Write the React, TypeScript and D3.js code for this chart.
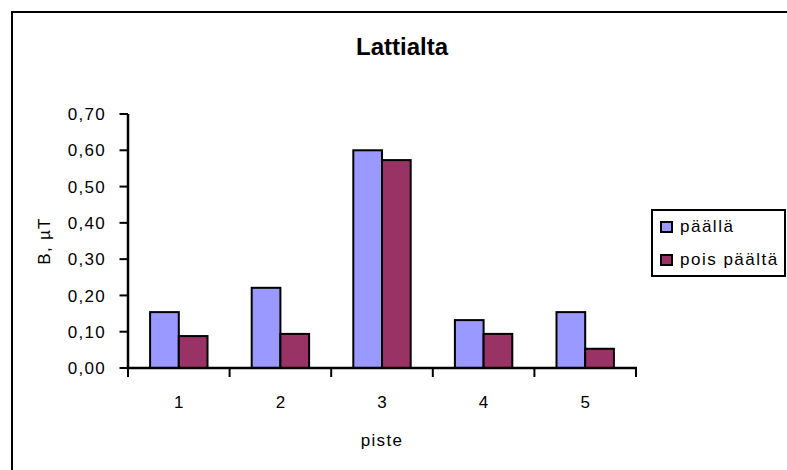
import React from "react";
import * as d3 from "d3";

const title = "Lattialta";
const categories = ["1", "2", "3", "4", "5"];
const seriesNames = ["päällä", "pois päältä"];
const paalla = [0.154, 0.221, 0.6, 0.132, 0.154];
const poisPaalta = [0.088, 0.094, 0.573, 0.094, 0.053];
const yTicks = [0, 0.1, 0.2, 0.3, 0.4, 0.5, 0.6, 0.7];
const xTitle = "piste";
const yTitle = "B, µT";
const colors = ["#9999FF", "#993366"];

const W = 787;
const H = 470;
const font = "'Liberation Sans', Arial, sans-serif";

export default function App() {
  const series = [paalla, poisPaalta];
  const y = d3.scaleLinear().domain([0, 0.7]).range([368, 114]);
  const x = d3
    .scaleBand<string>()
    .domain(categories)
    .range([128, 636])
    .paddingInner(0.435)
    .paddingOuter(0.2175);
  const xs = d3
    .scaleBand<number>()
    .domain(series.map((_, i) => i))
    .range([0, x.bandwidth()]);
  const step = x.step();
  const boundaries = d3.range(categories.length + 1).map((i) => 128 + i * step);
  const fmt = (v: number) => v.toFixed(2).replace(".", ",");

  return (
    <svg
      width={W}
      height={H}
      style={{ position: "fixed", left: 0, top: 0, display: "block", background: "#fff" }}
      fontFamily={font}
    >
      {/* chart frame */}
      <rect x={12} y={12} width={W + 20} height={H + 20} fill="#fff" stroke="#000" strokeWidth={2} />

      <text x={402} y={55} textAnchor="middle" fontSize={24} fontWeight="bold">
        {title}
      </text>

      {/* bars */}
      {categories.map((c, ci) =>
        series.map((s, si) => (
          <rect
            key={`${c}-${si}`}
            x={(x(c) as number) + (xs(si) as number)}
            y={y(s[ci])}
            width={xs.bandwidth()}
            height={y(0) - y(s[ci])}
            fill={colors[si]}
            stroke="#000"
            strokeWidth={2}
          />
        ))
      )}

      {/* y axis */}
      <line x1={128} x2={128} y1={y(0.7)} y2={y(0)} stroke="#000" strokeWidth={2.5} />
      {yTicks.map((t) => (
        <g key={t}>
          <line x1={119.5} x2={128} y1={y(t)} y2={y(t)} stroke="#000" strokeWidth={2} />
          <text
            x={106}
            y={y(t)}
            dy="0.36em"
            textAnchor="end"
            fontSize={17}
            letterSpacing={1.3}
          >
            {fmt(t)}
          </text>
        </g>
      ))}

      {/* x axis */}
      <line x1={127} x2={637} y1={y(0)} y2={y(0)} stroke="#000" strokeWidth={2.5} />
      {boundaries.map((b, i) => (
        <line key={i} x1={b} x2={b} y1={y(0)} y2={377} stroke="#000" strokeWidth={2} />
      ))}
      {categories.map((c) => (
        <text
          key={c}
          x={(x(c) as number) + x.bandwidth() / 2}
          y={408}
          textAnchor="middle"
          fontSize={17}
        >
          {c}
        </text>
      ))}

      <text x={382} y={446} textAnchor="middle" fontSize={17} letterSpacing={1.3}>
        {xTitle}
      </text>
      <text
        transform={`translate(50,${(y(0) + y(0.7)) / 2}) rotate(-90)`}
        textAnchor="middle"
        fontSize={17}
        letterSpacing={1.3}
      >
        {yTitle}
      </text>

      {/* legend */}
      <rect x={652} y={210} width={133} height={66} fill="#fff" stroke="#000" strokeWidth={2} />
      {seriesNames.map((n, i) => (
        <g key={n}>
          <rect
            x={661}
            y={222 + i * 33}
            width={11}
            height={10}
            fill={colors[i]}
            stroke="#000"
            strokeWidth={2}
          />
          <text x={680} y={232 + i * 33} fontSize={17} letterSpacing={1.5}>
            {n}
          </text>
        </g>
      ))}
    </svg>
  );
}
